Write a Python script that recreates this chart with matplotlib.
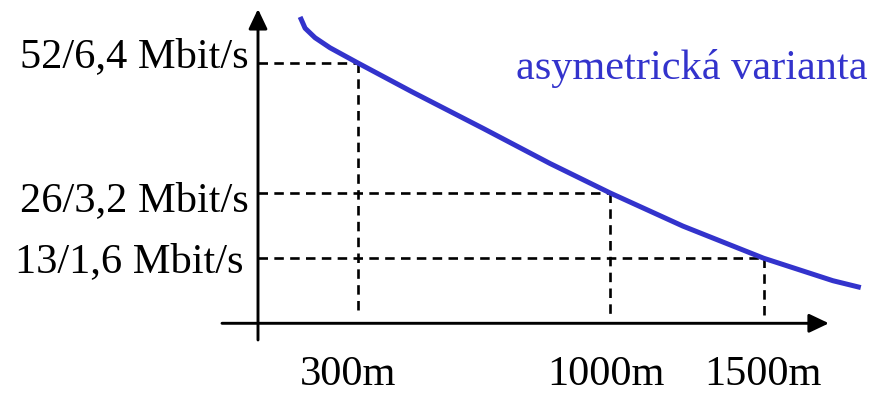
import numpy as np
import matplotlib
matplotlib.use("Agg")
import matplotlib.pyplot as plt

# ---- data ----
distance_m = [130, 142, 172, 217, 300, 451, 648, 833, 1000, 1237, 1500, 1724, 1806]
rate_mbit = [60.7, 58.9, 57.0, 55.0, 52.0, 46.2, 38.9, 31.9, 26.0, 19.4, 13.0, 8.5, 7.25]

y_ticks = [52, 26, 13]
y_labels = ["52/6,4 Mbit/s", "26/3,2 Mbit/s", "13/1,6 Mbit/s"]
x_ticks = [300, 1000, 1500]
x_labels = ["300m", "1000m", "1500m"]
title = "asymetrická varianta"

# ---- style / layout ----
BLUE = "#3333cc"
FONT = "Liberation Serif"
FS = 30.5

W, H = 885, 393
fig = plt.figure(figsize=(W / 100, H / 100), dpi=100)
ax = fig.add_axes([0, 0, 1, 1])
ax.axis("off")

# schematic (non-uniform) distance axis
_m_k = np.array([-800, 0, 300, 1000, 1500, 2300], dtype=float)
_p_k = np.array([-7.4, 258, 357.5, 610.3, 763.5, 1011.5])


def fwd(x):
    return np.interp(x, _m_k, _p_k)


def inv(p):
    return np.interp(p, _p_k, _m_k)


ax.set_xscale("function", functions=(fwd, inv))
ax.set_xlim(inv(0.0), inv(float(W)))
y0_px, px_per = 323.3, 5.01
ax.set_ylim(-(H - y0_px) / px_per, y0_px / px_per)

# axes with arrows
arrow = dict(arrowstyle="-|>,head_length=0.8,head_width=0.38", mutation_scale=15,
             lw=2.1, color="black", shrinkA=0, shrinkB=0)
ax.annotate("", xy=(0, 62.73), xytext=(0, -3.33), arrowprops=arrow)
ax.annotate("", xy=(1711, 0), xytext=(-108.5, 0), arrowprops=arrow)

# dashed guide lines
dash = dict(color="black", lw=1.9, dashes=(3.6, 2.4))
for xv, yv in zip(x_ticks, y_ticks):
    ax.plot([0, xv], [yv, yv], **dash)
    ax.plot([xv, xv], [yv, 1.5], **dash)

# curve
ax.plot(distance_m, rate_mbit, color=BLUE, lw=3.6, solid_joinstyle="round")

# y labels
y_off = [(-7, -3.2), (-7, -13.2), (-10.5, -10.1)]
for yv, lab, (dx, dy) in zip(y_ticks, y_labels, y_off):
    ax.annotate(lab, xy=(0, yv), xytext=(dx, dy), textcoords="offset points",
                ha="right", va="baseline", fontsize=FS, family=FONT, color="black")

# x labels
x_off = [-6.8, -2.9, -0.7]
for xv, lab, dx in zip(x_ticks, x_labels, x_off):
    ax.annotate(lab, xy=(xv, 0), xytext=(dx, -44.2), textcoords="offset points",
                ha="center", va="baseline", fontsize=FS, family=FONT, color="black")

# title
ax.text(868 / W, 1 - 79 / H, title, transform=ax.transAxes, ha="right", va="baseline",
        fontsize=FS, family=FONT, color=BLUE)

fig.savefig("out.png", dpi=100)
